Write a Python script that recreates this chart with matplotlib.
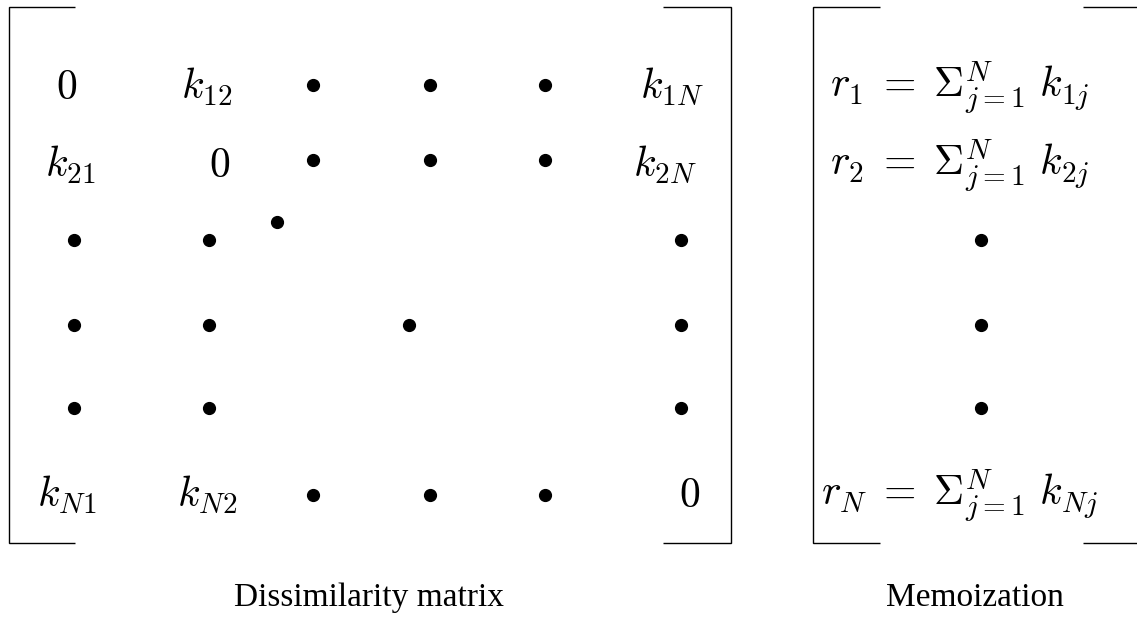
import matplotlib
matplotlib.use("Agg")
import matplotlib.pyplot as plt

plt.rcParams['mathtext.fontset'] = 'cm'

# Matrix content: None = empty, '.' = dot, otherwise math text
matrix_rows = [
    [r'$0$', r'$k_{12}$', '.', '.', '.', r'$k_{1N}$'],
    [r'$k_{21}$', r'$0$', '.', '.', '.', r'$k_{2N}$'],
    ['.', '.', None, None, None, '.'],
    ['.', '.', None, None, None, '.'],
    ['.', '.', None, None, None, '.'],
    [r'$k_{N1}$', r'$k_{N2}$', '.', '.', '.', r'$0$'],
]
memo_rows = [r'$r_1 \;=\; \Sigma_{j=1}^{N}\,\, k_{1j}$',
             r'$r_2 \;=\; \Sigma_{j=1}^{N}\,\, k_{2j}$',
             '.', '.', '.',
             r'$r_N \;=\; \Sigma_{j=1}^{N}\,\, k_{Nj}$']
titles = ['Dissimilarity matrix', 'Memoization']

W, H = 1137, 636
fig = plt.figure(figsize=(W / 100, H / 100), dpi=100)
ax = fig.add_axes([0, 0, 1, 1])
ax.set_xlim(0, W)
ax.set_ylim(H, 0)
ax.axis('off')

# layout (pixels)
text_x = [[67, 207, None, None, None, 672],
          [70, 220, None, None, None, 665],
          [None] * 6, [None] * 6, [None] * 6,
          [67, 207, None, None, None, 690]]
dot_x = [74, 209, 313, 430, 545, 681]
row_base = [99, 177, 254, 339, 422, 507]   # text baselines
row_dot = [85, 160, 240, 325, 408, 495]    # bullet centres

fs = 30
ms = 8.5
for r, row in enumerate(matrix_rows):
    for c, v in enumerate(row):
        if v is None:
            continue
        if v == '.':
            ax.plot(dot_x[c], row_dot[r], 'o', color='black', ms=ms)
        else:
            ax.text(text_x[r][c], row_base[r], v, fontsize=fs,
                    ha='center', va='baseline')

# diagonal dots
ax.plot(277, 222, 'o', color='black', ms=ms)
ax.plot(409, 325, 'o', color='black', ms=ms)

mx = 960
for r, v in enumerate(memo_rows):
    if v == '.':
        ax.plot(981, row_dot[r], 'o', color='black', ms=ms)
    else:
        ax.text(mx, row_base[r] - 2, v, fontsize=fs, ha='center', va='baseline')

lw = 1.0
top, bot = 7, 543
kw = dict(color='black', lw=lw, solid_capstyle='butt', solid_joinstyle='miter')
ax.plot([75, 9, 9, 75], [top, top, bot, bot], **kw)
ax.plot([663, 731, 731, 663], [top, top, bot, bot], **kw)
ax.plot([880, 813, 813, 880], [top, top, bot, bot], **kw)
ax.plot([1083, 1137], [top, top], **kw)
ax.plot([1083, 1137], [bot, bot], **kw)

ax.text(369, 598, titles[0], fontsize=24, family='Liberation Serif',
        ha='center', va='center')
ax.text(975, 598, titles[1], fontsize=24, family='Liberation Serif',
        ha='center', va='center')

fig.savefig('out.png', dpi=100)
